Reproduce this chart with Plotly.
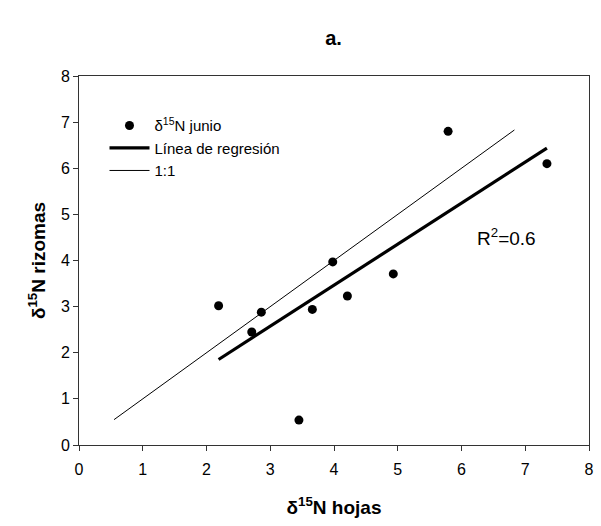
import numpy as np
import plotly.graph_objects as go

# Data
hojas = [2.19, 2.71, 2.86, 3.45, 3.66, 3.98, 4.21, 4.93, 5.79, 7.34]
rizomas = [3.02, 2.45, 2.88, 0.54, 2.94, 3.97, 3.23, 3.71, 6.80, 6.10]
one_to_one_range = [0.55, 6.83]
tick_vals = [0, 1, 2, 3, 4, 5, 6, 7, 8]
r2_label = "R<sup>2</sup>=0.6"

FONT = "Liberation Sans, Arial, sans-serif"

# Regression line from the data
slope, intercept = np.polyfit(hojas, rizomas, 1)
xr = np.array([min(hojas), max(hojas)])
yr = slope * xr + intercept

fig = go.Figure()
fig.add_trace(go.Scatter(
    x=hojas, y=rizomas, mode="markers",
    marker=dict(color="black", size=9),
    name="δ<sup>15</sup>N junio",
))
fig.add_trace(go.Scatter(
    x=xr, y=yr, mode="lines",
    line=dict(color="black", width=3.2),
    name="Línea de regresión",
))
fig.add_trace(go.Scatter(
    x=one_to_one_range, y=one_to_one_range, mode="lines",
    line=dict(color="black", width=1),
    name="1:1",
))

fig.add_annotation(
    x=6.7, y=4.5, xref="x", yref="y", text=r2_label, showarrow=False,
    font=dict(family=FONT, size=19, color="black"),
)

axis_common = dict(
    range=[0, 8], tickvals=tick_vals, ticks="outside", ticklen=5,
    tickcolor="#333", tickwidth=1, showline=True, linecolor="#333",
    linewidth=1, mirror=True, showgrid=False, zeroline=False,
    tickfont=dict(family=FONT, size=16, color="black"),
)

fig.update_layout(
    width=601, height=526,
    margin=dict(l=79, r=7, t=76, b=81),
    paper_bgcolor="white", plot_bgcolor="white",
    title=dict(text="<b>a.</b>", x=0.555, xanchor="center", y=0.928, yanchor="middle",
               font=dict(family=FONT, size=20, color="black")),
    xaxis=dict(**axis_common, ticklabelstandoff=5,
               title=dict(text="<b>δ<sup>15</sup>N hojas</b>", standoff=23,
                          font=dict(family=FONT, size=19, color="black"))),
    yaxis=dict(**axis_common,
               title=dict(text="<b>δ<sup>15</sup>N rizomas</b>", standoff=10,
                          font=dict(family=FONT, size=19, color="black"))),
    legend=dict(x=0.05, y=0.91, xanchor="left", yanchor="top",
                bgcolor="rgba(0,0,0,0)", borderwidth=0,
                font=dict(family=FONT, size=15, color="black"),
                tracegroupgap=0, itemwidth=40),
    showlegend=True,
)

fig.write_html("out.html")
